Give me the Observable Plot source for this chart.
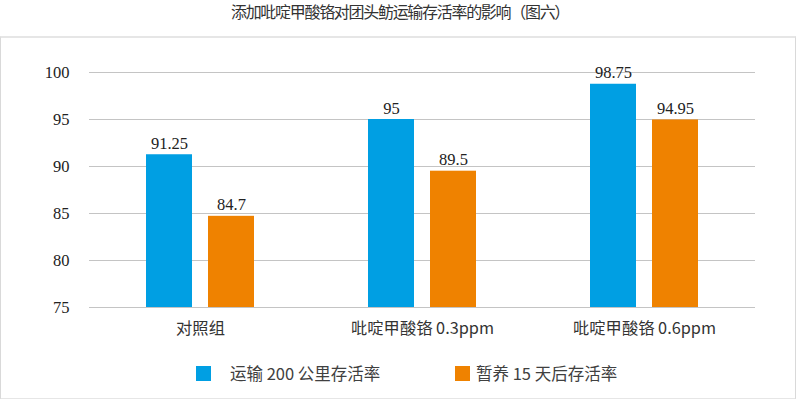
<!DOCTYPE html>
<html><head><meta charset="utf-8">
<script src="https://cdn.jsdelivr.net/npm/d3@7"></script>
<script src="https://cdn.jsdelivr.net/npm/@observablehq/plot@0.6"></script>
<style>
html,body{margin:0;padding:0;background:#fff;}
#wrap{position:relative;width:796px;height:399px;overflow:hidden;font-family:"Noto Sans CJK SC","Noto Sans",sans-serif;}
#title{position:absolute;top:1px;left:0;width:800px;line-height:20px;text-align:center;font-size:16px;letter-spacing:-1.3px;color:#333;white-space:nowrap;}
#box{position:absolute;top:36px;left:0;width:794px;height:360px;border:1px solid #d9d9d9;border-top:2px solid #e6e6e6;border-bottom:2px solid #e6e6e6;}
#chart{position:absolute;top:37px;left:0;}
.leg{position:absolute;top:361px;font-size:16.5px;color:#404040;white-space:nowrap;}
.sw{position:absolute;top:366px;width:15px;height:15px;}
</style></head>
<body><div id="wrap">
<div id="title">添加吡啶甲酸铬对团头鲂运输存活率的影响（图六）</div>
<div id="box"></div>
<div id="chart"></div>
<div class="sw" id="sw0" style="left:196px"></div><div class="leg" id="lg0" style="left:230px"></div>
<div class="sw" id="sw1" style="left:455px"></div><div class="leg" id="lg1" style="left:476px"></div>
</div>
<script>
const groups = ["对照组", "吡啶甲酸铬 0.3ppm", "吡啶甲酸铬 0.6ppm"];
const seriesNames = ["运输 200 公里存活率", "暂养 15 天后存活率"];
const transport = [91.25, 95, 98.75];
const holding = [84.7, 89.5, 94.95];
const yTicks = [75, 80, 85, 90, 95, 100];
const colors = ["#009fe3", "#ef8200"];

const data = [];
groups.forEach((g, i) => {
  data.push({group: g, series: seriesNames[0], value: transport[i]});
  data.push({group: g, series: seriesNames[1], value: holding[i]});
});

const chart = Plot.plot({
  width: 796, height: 310,
  marginTop: 35, marginBottom: 40, marginLeft: 88, marginRight: 41,
  fx: {domain: groups, padding: 0, label: null},
  x: {domain: seriesNames, paddingInner: 0.254, paddingOuter: 0.889, axis: null},
  y: {domain: [75, 100], label: null},
  color: {domain: seriesNames, range: colors},
  style: {background: "transparent"},
  marks: [
    Plot.ruleY(yTicks, {stroke: "#c4c4c4", strokeWidth: 1}),
    Plot.barY(data, {fx: "group", x: "series", y1: 75, y2: "value", fill: "series"}),
    Plot.text(data, {fx: "group", x: "series", y: "value", text: d => String(d.value), lineAnchor: "bottom", dy: -6, fontSize: 16.5, fill: "#222", fontFamily: "Liberation Serif, serif"}),
    Plot.axisY({ticks: yTicks, tickSize: 0, tickPadding: 20, fontSize: 16.5, fontFamily: "Liberation Serif, serif", color: "#222", label: null}),
    Plot.axisFx({anchor: "bottom", tickSize: 0, tickPadding: 15, fontSize: 16.3, fontFamily: "Noto Sans CJK SC, sans-serif", color: "#333", label: null})
  ]
});
document.getElementById("chart").appendChild(chart);
document.getElementById("sw0").style.background = colors[0];
document.getElementById("sw1").style.background = colors[1];
document.getElementById("lg0").textContent = seriesNames[0];
document.getElementById("lg1").textContent = seriesNames[1];
</script>
</body></html>
